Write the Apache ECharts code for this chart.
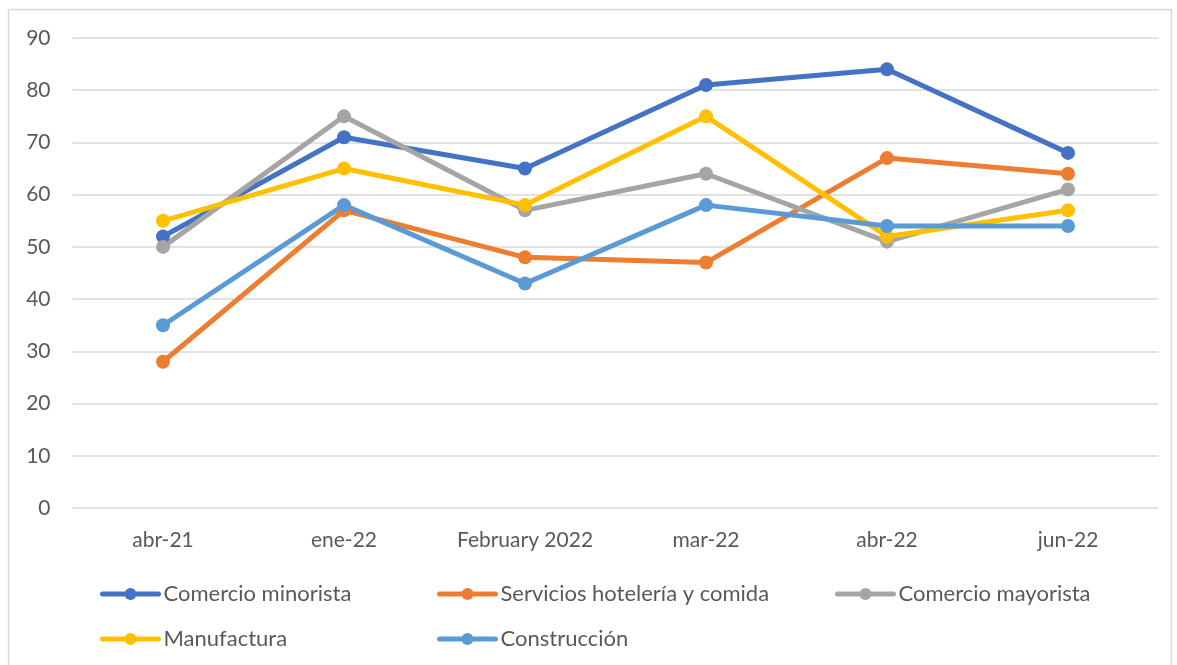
<!DOCTYPE html>
<html>
<head>
<meta charset="utf-8">
<script src="https://cdn.jsdelivr.net/npm/echarts@6/dist/echarts.min.js"></script>
<style>
  html, body { margin: 0; padding: 0; background: #fff; }
  #main { width: 1177px; height: 665px; }
</style>
</head>
<body>
<div id="main"></div>
<script>
var categories = ['abr-21', 'ene-22', 'February 2022', 'mar-22', 'abr-22', 'jun-22'];
var seriesNames = ['Comercio minorista', 'Servicios hotelería y comida', 'Comercio mayorista', 'Manufactura', 'Construcción'];
var minorista = [52, 71, 65, 81, 84, 68];
var servicios = [28, 57, 48, 47, 67, 64];
var mayorista = [50, 75, 57, 64, 51, 61];
var manufactura = [55, 65, 58, 75, 52, 57];
var construccion = [35, 58, 43, 58, 54, 54];
var colors = ['#4472C4', '#ED7D31', '#A5A5A5', '#FFC000', '#5B9BD5'];

var font = 'Lato, "Noto Sans", sans-serif';
var values = [minorista, servicios, mayorista, manufactura, construccion];

var myChart = echarts.init(document.getElementById('main'));

// legend positions (two rows, like the original)
var legendPos = [
  { left: 100, top: 583 },
  { left: 437, top: 583 },
  { left: 835, top: 583 },
  { left: 100, top: 628 },
  { left: 437, top: 628 }
];

var option = {
  animation: false,
  color: colors,
  graphic: [{
    type: 'rect',
    shape: { x: 8.5, y: 9.5, width: 1163, height: 670 },
    style: { fill: 'none', stroke: '#D9D9D9', lineWidth: 1.5 },
    silent: true
  }],
  legend: legendPos.map(function (p, i) {
    return {
      left: p.left,
      top: p.top,
      padding: 0,
      data: [seriesNames[i]],
      itemWidth: 56,
      itemHeight: 15,
      lineStyle: { width: 5, cap: 'round' },
      textStyle: { fontFamily: font, fontSize: 22, color: '#595959' }
    };
  }),
  grid: {
    left: 72.5,
    right: 18.5,
    top: 38,
    bottom: 157
  },
  xAxis: {
    type: 'category',
    data: categories,
    boundaryGap: true,
    axisLine: { show: false },
    axisTick: { show: false },
    axisLabel: { margin: 22, fontFamily: font, fontSize: 21, color: '#595959' }
  },
  yAxis: {
    type: 'value',
    min: 0,
    max: 90,
    interval: 10,
    axisLine: { show: false },
    axisTick: { show: false },
    axisLabel: { margin: 22, fontFamily: font, fontSize: 21, color: '#595959' },
    splitLine: { lineStyle: { color: '#D9D9D9', width: 1.5 } }
  },
  series: seriesNames.map(function (name, i) {
    return {
      name: name,
      type: 'line',
      data: values[i],
      symbol: 'circle',
      symbolSize: 14,
      lineStyle: { width: 5, cap: 'round' },
      itemStyle: { color: colors[i] }
    };
  })
};

myChart.setOption(option);
</script>
</body>
</html>
